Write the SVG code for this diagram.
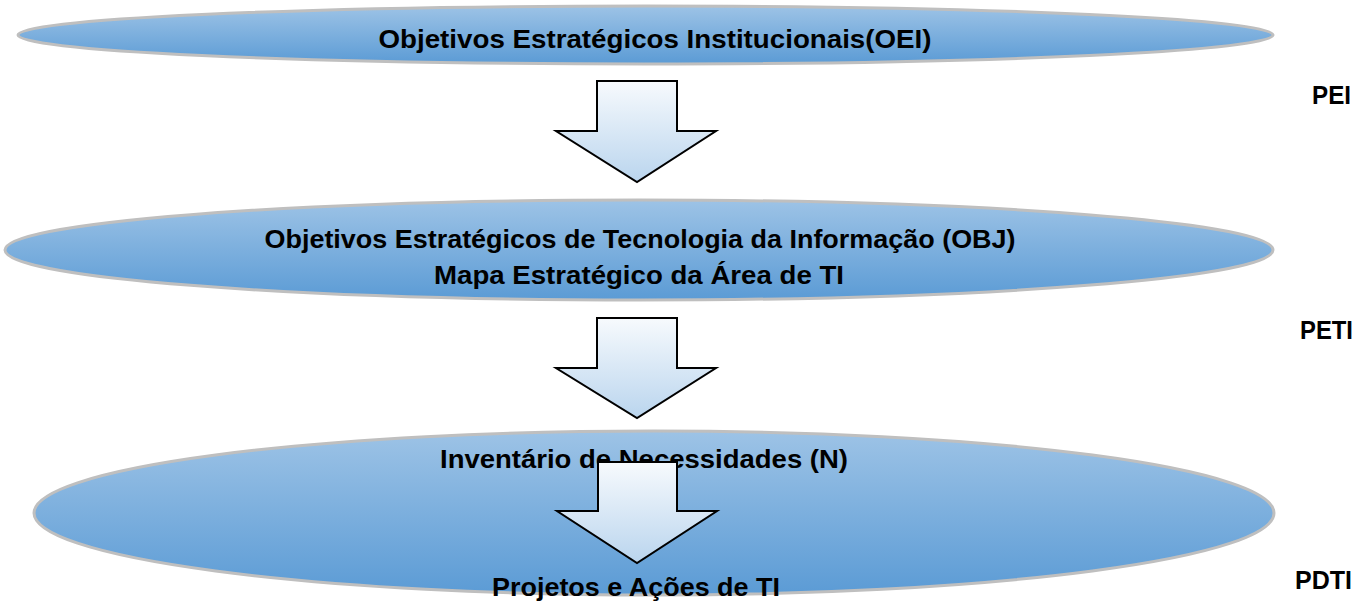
<svg xmlns="http://www.w3.org/2000/svg" width="1370" height="603" viewBox="0 0 1370 603">
  <defs>
    <linearGradient id="gEll" x1="0" y1="0" x2="0" y2="1">
      <stop offset="0" stop-color="#9dc3e6"/>
      <stop offset="1" stop-color="#5b9bd5"/>
    </linearGradient>
    <linearGradient id="gArr" x1="0" y1="0" x2="0" y2="1">
      <stop offset="0" stop-color="#f7fafd"/>
      <stop offset="1" stop-color="#bad5ee"/>
    </linearGradient>
    <style>
      .ell { fill: url(#gEll); stroke: #bfbfbf; stroke-width: 3; }
      .arr { fill: url(#gArr); stroke: #000; stroke-width: 2; stroke-linejoin: miter; }
      .t { font-family: "Liberation Sans", Arial, sans-serif; font-weight: bold; font-size: 26px; fill: #000; }
      .c { text-anchor: middle; }
    </style>
  </defs>
  <rect width="1370" height="603" fill="#fff"/>

  <g id="node-oei">
    <ellipse class="ell" cx="645.5" cy="35" rx="627.5" ry="29"/>
    <text class="t c" x="655" y="48" textLength="553" lengthAdjust="spacingAndGlyphs">Objetivos Estratégicos Institucionais(OEI)</text>
  </g>

  <g id="node-obj">
    <ellipse class="ell" cx="639" cy="250" rx="634" ry="50"/>
    <text class="t c" x="640" y="248" textLength="751" lengthAdjust="spacingAndGlyphs">Objetivos Estratégicos de Tecnologia da Informação (OBJ)</text>
    <text class="t c" x="639" y="284" textLength="410" lengthAdjust="spacingAndGlyphs">Mapa Estratégico da Área de TI</text>
  </g>

  <g id="node-n">
    <ellipse class="ell" cx="654" cy="513" rx="620" ry="82"/>
    <text class="t c" x="644" y="468" textLength="408" lengthAdjust="spacingAndGlyphs">Inventário de Necessidades (N)</text>
    <text class="t c" x="636" y="596" textLength="288" lengthAdjust="spacingAndGlyphs">Projetos e Ações de TI</text>
  </g>

  <g id="connectors">
    <path class="arr" d="M597,81 H677 V131 H716 L637,182 L556,131 H597 Z"/>
    <path class="arr" d="M597,318 H677 V368 H716 L637,418 L556,368 H597 Z"/>
    <path class="arr" d="M598,462 H677 V511 H717 L637,563 L557,511 H598 Z"/>
  </g>

  <g id="labels">
    <text class="t" x="1312" y="104" textLength="39" lengthAdjust="spacingAndGlyphs">PEI</text>
    <text class="t" x="1300" y="339" textLength="53" lengthAdjust="spacingAndGlyphs">PETI</text>
    <text class="t" x="1295" y="589" textLength="57" lengthAdjust="spacingAndGlyphs">PDTI</text>
  </g>
</svg>
